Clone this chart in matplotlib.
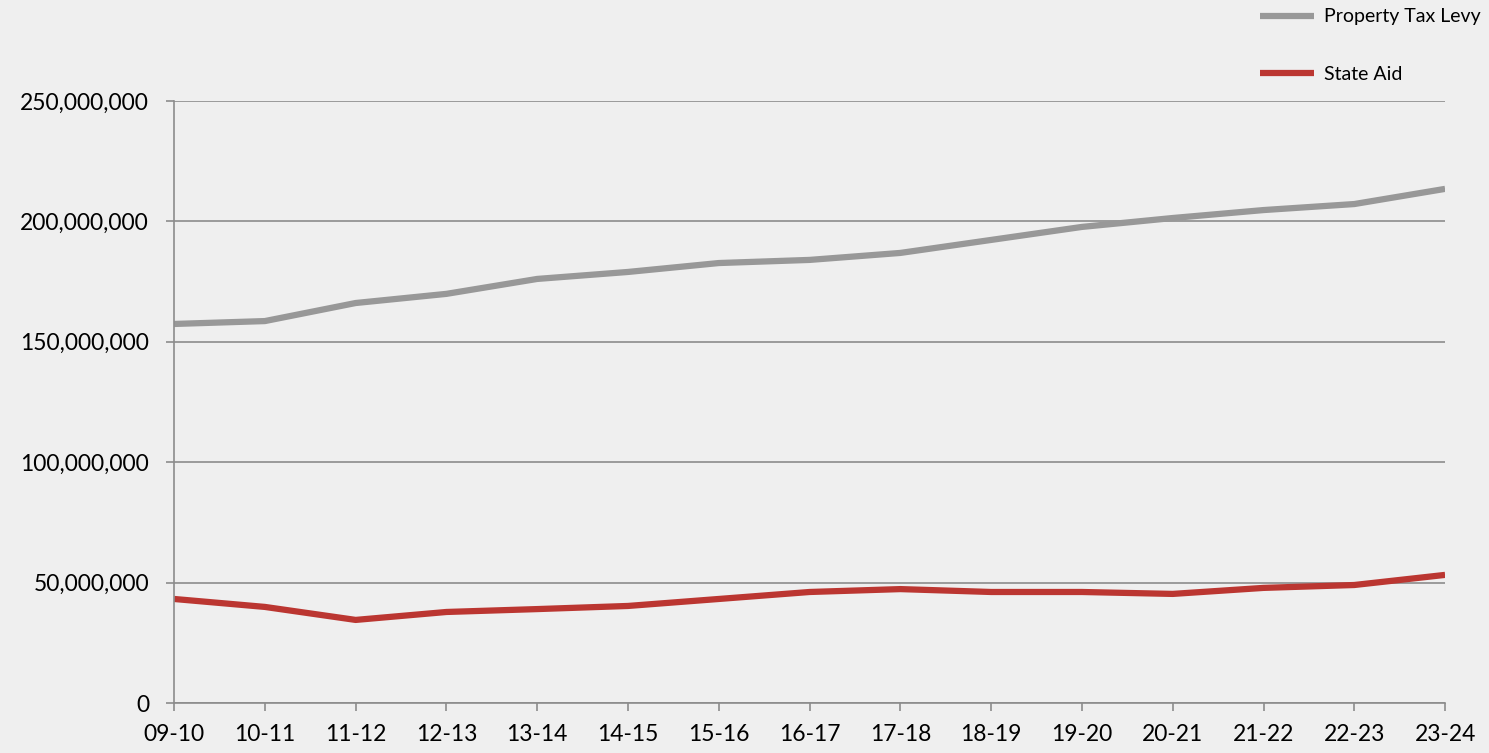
import matplotlib.pyplot as plt
from matplotlib.ticker import FuncFormatter

years = ['09-10', '10-11', '11-12', '12-13', '13-14', '14-15', '15-16', '16-17',
         '17-18', '18-19', '19-20', '20-21', '21-22', '22-23', '23-24']
property_tax = [157.4, 158.6, 166.1, 169.9, 176.1, 179.0, 182.7, 184.0,
                186.9, 192.3, 197.7, 201.4, 204.7, 207.2, 213.5]
state_aid = [43.2, 39.9, 34.5, 37.8, 39.0, 40.3, 43.2, 46.1,
             47.3, 46.1, 46.1, 45.3, 47.8, 49.0, 53.2]

plt.rcParams['font.family'] = ['Lato', 'DejaVu Sans']

bg = '#efefef'
fig = plt.figure(figsize=(14.89, 7.53), dpi=100, facecolor=bg)
ax = fig.add_axes([0.1169, 0.0664, 0.9705 - 0.1169, 0.8659 - 0.0664])
ax.set_facecolor(bg)

x = range(len(years))
ax.plot(x, [v * 1e6 for v in property_tax], color='#989898', linewidth=4.5,
        label='Property Tax Levy', solid_capstyle='butt')
ax.plot(x, [v * 1e6 for v in state_aid], color='#bb3631', linewidth=4.5,
        label='State Aid', solid_capstyle='butt')

ax.set_xlim(0, len(years) - 1)
ax.set_ylim(0, 250e6)
ax.set_xticks(list(x))
ax.set_xticklabels(years)
ax.set_yticks([0, 50e6, 100e6, 150e6, 200e6, 250e6])
ax.yaxis.set_major_formatter(FuncFormatter(lambda v, p: f'{int(v):,}'))

ax.grid(axis='y', color='#8c8c8c', linewidth=1.2)
ax.set_axisbelow(True)
for s in ['top', 'right']:
    ax.spines[s].set_visible(False)
for s in ['left', 'bottom']:
    ax.spines[s].set_color('#8c8c8c')
    ax.spines[s].set_linewidth(1.2)
ax.tick_params(axis='both', colors='#8c8c8c', labelcolor='black', labelsize=16.5,
               length=6, width=1.2)
ax.tick_params(axis='x', pad=9)
ax.tick_params(axis='y', pad=12)

leg = fig.legend(loc='upper right', bbox_to_anchor=(1.006, 1.012), frameon=False,
                 fontsize=14, handlelength=2.8, labelspacing=2.1, handletextpad=0.5)

plt.savefig('out.png', dpi=100, facecolor=bg)
